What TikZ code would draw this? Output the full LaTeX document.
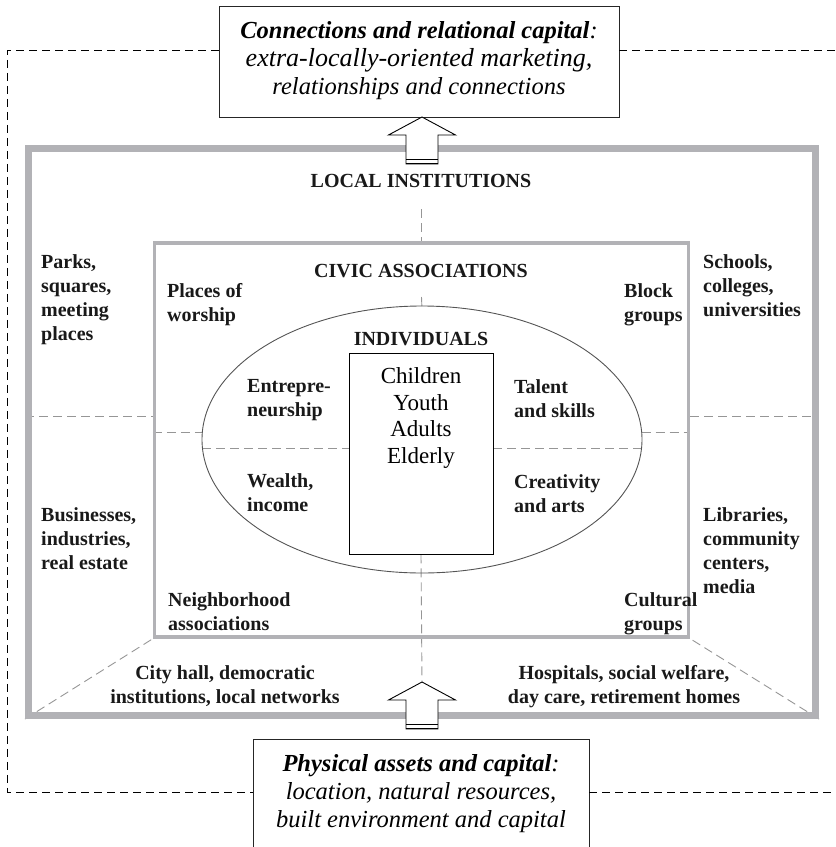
\documentclass[tikz,border=0pt]{standalone}
\usepackage{fontspec}
\setmainfont{Liberation Serif}
\usetikzlibrary{calc,shapes.geometric,backgrounds}
\definecolor{framegray}{RGB}{178,178,182}
\definecolor{dashgray}{RGB}{150,150,150}
\definecolor{ringgray}{RGB}{85,85,85}
\tikzset{
  tag/.style={font=\fontsize{20}{24}\selectfont\bfseries, inner sep=0pt, text=black!90},
  tagl/.style={tag, align=left, anchor=north west},
  tagc/.style={tag, align=center, anchor=north},
  head/.style={tag, anchor=base},
  divider/.style={dashgray, line width=0.9pt, dash pattern=on 9pt off 5pt},
  loopline/.style={black, line width=0.8pt, dash pattern=on 8pt off 5pt},
  frameouter/.style={draw=framegray, line width=7pt, inner sep=0pt},
  frameinner/.style={draw=framegray, line width=3.5pt, inner sep=0pt},
  capbox/.style={draw=black!85, line width=0.9pt, fill=white, inner sep=0pt},
  captext/.style={font=\fontsize{24.5}{28}\selectfont\itshape, align=center, inner sep=0pt, anchor=north},
  blockarrow/.pic={
    \draw[fill=white, line width=0.9pt, line join=miter]
      (0,0) -- (33.5,18) -- (16,18) -- (16,47) -- (-16,47) -- (-16,18) -- (-33.5,18) -- cycle;
    \draw[line width=0.7pt] (-16,42) -- (16,42);
    \draw[line width=1.5pt] (-16,46.5) -- (16,46.5);
  }
}
\begin{document}
\begin{tikzpicture}[x=1pt,y=-1pt]
\useasboundingbox (0,0) rectangle (836,847);
\clip (0,0) rectangle (836,847);

% nested frames, ring and core square
\node[frameouter, minimum width=787pt, minimum height=567.5pt] (outer) at (422,431.75) {};
\node[frameinner, minimum width=534pt, minimum height=394pt] (inner) at (421.5,440) {};
\node[ellipse, draw=ringgray, line width=0.9pt, inner sep=0pt,
      minimum width=440pt, minimum height=267pt] (ind) at (422,439.5) {};
\node[draw=black, line width=0.9pt, inner sep=0pt, minimum width=144pt, minimum height=201pt]
      (core) at (421,453.5) {};

% reference rows and arrow tips
\coordinate (rowA) at (0,416);
\coordinate (rowB) at (0,432);
\coordinate (rowC) at (0,448);
\coordinate (vtop) at (421.5,209);
\coordinate (vmid) at (421.5,297);
\coordinate (toptip) at (422,117);
\coordinate (bottip) at (422,682);

% dashed dividers, kept under the frames
\begin{scope}[on background layer]
  \draw[divider] (outer.west |- rowA) -- (inner.west |- rowA);
  \draw[divider] (inner.east |- rowA) -- (outer.east |- rowA);
  \draw[divider] (inner.west |- rowB) -- ($(ind.center)+(-219.6,-7.5)$);
  \draw[divider] ($(ind.center)+(219.6,-7.5)$) -- (inner.east |- rowB);
  \draw[divider] ($(ind.center)+(-219.6,8.5)$) -- (core.west |- rowC);
  \draw[divider] (core.east |- rowC) -- ($(ind.center)+(219.6,8.5)$);
  \draw[divider] (outer.south west) -- (inner.south west);
  \draw[divider] (outer.south east) -- (inner.south east);
  \draw[divider] (vtop) -- (inner.north);
  \draw[divider] (vmid) -- ($(ind.north)+(0,4)$);
  \draw[divider] (core.south) -- (bottip);
\end{scope}

% headings
\node[head] (loc) at (421,187) {LOCAL INSTITUTIONS};
\node[head] (civ) at (421,277) {CIVIC ASSOCIATIONS};
\node[head] (indl) at (421,345) {INDIVIDUALS};

% outer ring labels
\node[tagl] (parks) at (41,254.5) {Parks,\\squares,\\meeting\\places};
\node[tagl] (schools) at (703,254.5) {Schools,\\colleges,\\universities};
\node[tagl] (biz) at (41,507.5) {Businesses,\\industries,\\real estate};
\node[tagl] (libs) at (703,507.5) {Libraries,\\community\\centers,\\media};
\node[tagc] (city) at (225,665.5) {City hall, democratic\\institutions, local networks};
\node[tagc] (hosp) at (624,665.5) {Hospitals, social welfare,\\day care, retirement homes};

% civic ring labels
\node[tagl] (worship) at (167,283.5) {Places of\\worship};
\node[tagl] (block) at (624,283.5) {Block\\groups};
\node[tagl] (neigh) at (168,592.5) {Neighborhood\\associations};
\node[tagl] (cult) at (624,592.5) {Cultural\\groups};

% individual assets
\node[tagl] (entre) at (247,379.5) {Entrepre-\\neurship};
\node[tagl] (talent) at (514,379.5) {Talent\\and skills};
\node[tagl] (wealth) at (247,473.5) {Wealth,\\income};
\node[tagl] (creat) at (514,474) {Creativity\\and arts};

\node[font=\fontsize{23}{26.5}\selectfont, align=center, inner sep=0pt, anchor=north]
  (coretext) at (421,367.5) {Children\\Youth\\Adults\\Elderly};

% capital boxes
\node[capbox, minimum width=400pt, minimum height=111pt] (conn) at (419,61.5) {};
\node[captext] (conntext) at (419,21.5)
  {\textbf{Connections and relational capital}:\\
   {\fontsize{26}{28}\selectfont extra-locally-oriented marketing,}\\
   relationships and connections};
\node[capbox, minimum width=336pt, minimum height=125pt] (phys) at (421,801.5) {};
\node[captext] (phystext) at (421,754.5)
  {\textbf{Physical assets and capital}:\\location, natural resources,\\built environment and capital};

% block arrows
\pic at (toptip) {blockarrow};
\pic at (bottip) {blockarrow};

% dashed feedback loop
\coordinate (lt) at (7.5,50);
\coordinate (lb) at (7.5,792);
\coordinate (rt) at (840,50);
\coordinate (rb) at (840,792);
\draw[loopline] (conn.west |- lt) -- (lt) -- (lb) -- (phys.west |- lb);
\draw[loopline] (conn.east |- lt) -- (rt);
\draw[loopline] (phys.east |- lb) -- (rb);
\end{tikzpicture}
\end{document}
